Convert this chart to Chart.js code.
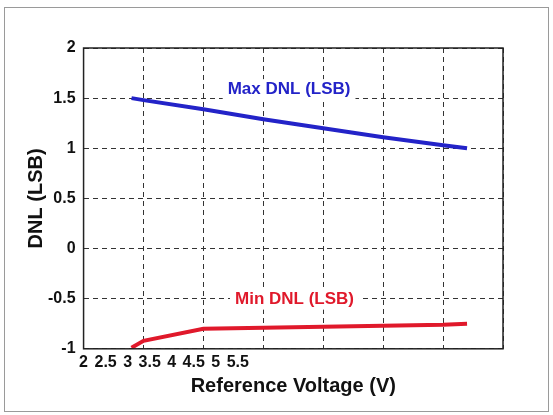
<!DOCTYPE html>
<html>
<head>
<script src="https://cdn.jsdelivr.net/npm/chart.js@4.4.0/dist/chart.umd.min.js"></script>
<style>
body { margin: 0; background: #fff; }
.marco { position: absolute; left: 4px; top: 7px; width: 543px; height: 403px; border: 1px solid #9a9a9a; }
#grafica { position: absolute; left: 0; top: 0; }
</style>
</head>
<body>
<div class="marco"></div>
<canvas id="grafica" width="553" height="415"></canvas>
<script>
// Posiciones x en unidades de la rejilla (0..7), valores DNL en LSB
var xMax = [0.8, 1, 2, 3, 4, 5, 6, 6.4];
var yMax = [1.5, 1.48, 1.39, 1.29, 1.2, 1.11, 1.03, 1.0];
var xMin = [0.8, 1, 2, 3, 4, 5, 6, 6.4];
var yMin = [-0.99, -0.92, -0.8, -0.79, -0.78, -0.77, -0.76, -0.75];
// Etiquetas del eje x (tal como aparecen, apiñadas a la izquierda)
var voltajes = [2, 2.5, 3, 3.5, 4, 4.5, 5, 5.5];
var yTicks = [2, 1.5, 1, 0.5, 0, -0.5, -1];

var fuente = 'Liberation Sans, Arial, sans-serif';

function puntos(xs, ys) {
    return xs.map(function (x, i) { return { x: x, y: ys[i] }; });
}

// Textos dentro del área: Max / Min DNL con fondo blanco
var etiquetas = {
    id: 'etiquetas',
    beforeDatasetsDraw: function (chart) {
        var ctx = chart.ctx;
        var sx = chart.scales.x, sy = chart.scales.y;
        var lista = [
            { texto: 'Max DNL (LSB)', x: 3.43, y: 1.59, color: '#2323c8' },
            { texto: 'Min DNL (LSB)', x: 3.52, y: -0.51, color: '#e0192b' }
        ];
        ctx.save();
        ctx.font = 'bold 17px ' + fuente;
        ctx.textAlign = 'center';
        ctx.textBaseline = 'middle';
        lista.forEach(function (e) {
            var px = sx.getPixelForValue(e.x), py = sy.getPixelForValue(e.y);
            var w = ctx.measureText(e.texto).width;
            ctx.fillStyle = '#fff';
            ctx.fillRect(px - w / 2 - 5, py - 10, w + 10, 20);
            ctx.fillStyle = e.color;
            ctx.fillText(e.texto, px, py);
        });
        ctx.restore();
    },
    // marco continuo alrededor del área de trazado
    afterDraw: function (chart) {
        var a = chart.chartArea, ctx = chart.ctx;
        ctx.save();
        ctx.strokeStyle = '#222';
        ctx.lineWidth = 1.5;
        ctx.setLineDash([]);
        ctx.strokeRect(a.left, a.top, a.right - a.left, a.bottom - a.top);
        ctx.restore();
    }
};

var fTick = { family: fuente, size: 16, weight: 'bold' };
var fTitulo = { family: fuente, size: 20, weight: 'bold', lineHeight: 1 };

new Chart(document.getElementById('grafica').getContext('2d'), {
    type: 'line',
    data: {
        datasets: [
            { data: puntos(xMax, yMax), borderColor: '#2323c8', borderWidth: 4, pointRadius: 0, tension: 0, fill: false, xAxisID: 'x', yAxisID: 'y' },
            { data: puntos(xMin, yMin), borderColor: '#e0192b', borderWidth: 4, pointRadius: 0, tension: 0, fill: false, xAxisID: 'x', yAxisID: 'y' }
        ]
    },
    options: {
        responsive: false,
        animation: false,
        layout: { padding: { left: 26, right: 50, top: 48, bottom: 19 } },
        plugins: { legend: { display: false }, tooltip: { enabled: false } },
        scales: {
            x: {
                type: 'linear', position: 'top', min: 0, max: 7,
                ticks: { display: false, stepSize: 1 },
                grid: { color: '#333', lineWidth: 1, drawTicks: false },
                border: { display: false, dash: [5, 4] }
            },
            xv: {
                type: 'linear', position: 'bottom', min: 2, max: 11.52,
                afterBuildTicks: function (s) { s.ticks = voltajes.map(function (v) { return { value: v }; }); },
                ticks: { autoSkip: false, maxRotation: 0, padding: 4, color: '#111', font: fTick,
                         callback: function (v) { return String(v); } },
                grid: { display: false, drawTicks: false },
                border: { display: false },
                title: { display: true, text: 'Reference Voltage (V)', color: '#111', padding: { top: 0, bottom: 0 }, font: fTitulo }
            },
            y: {
                type: 'linear', position: 'left', min: -1, max: 2,
                afterBuildTicks: function (s) { s.ticks = yTicks.map(function (v) { return { value: v }; }); },
                ticks: { padding: 8, color: '#111', font: fTick, callback: function (v) { return String(v); } },
                grid: { color: '#333', lineWidth: 1, drawTicks: false },
                border: { display: false, dash: [5, 4] },
                title: { display: true, text: 'DNL (LSB)', color: '#111', padding: { top: 0, bottom: -6 }, font: fTitulo }
            },
            yd: {
                type: 'linear', position: 'right', min: -1, max: 2,
                ticks: { display: false },
                grid: { display: false, drawTicks: false },
                border: { display: false }
            }
        }
    },
    plugins: [etiquetas]
});
</script>
</body>
</html>
